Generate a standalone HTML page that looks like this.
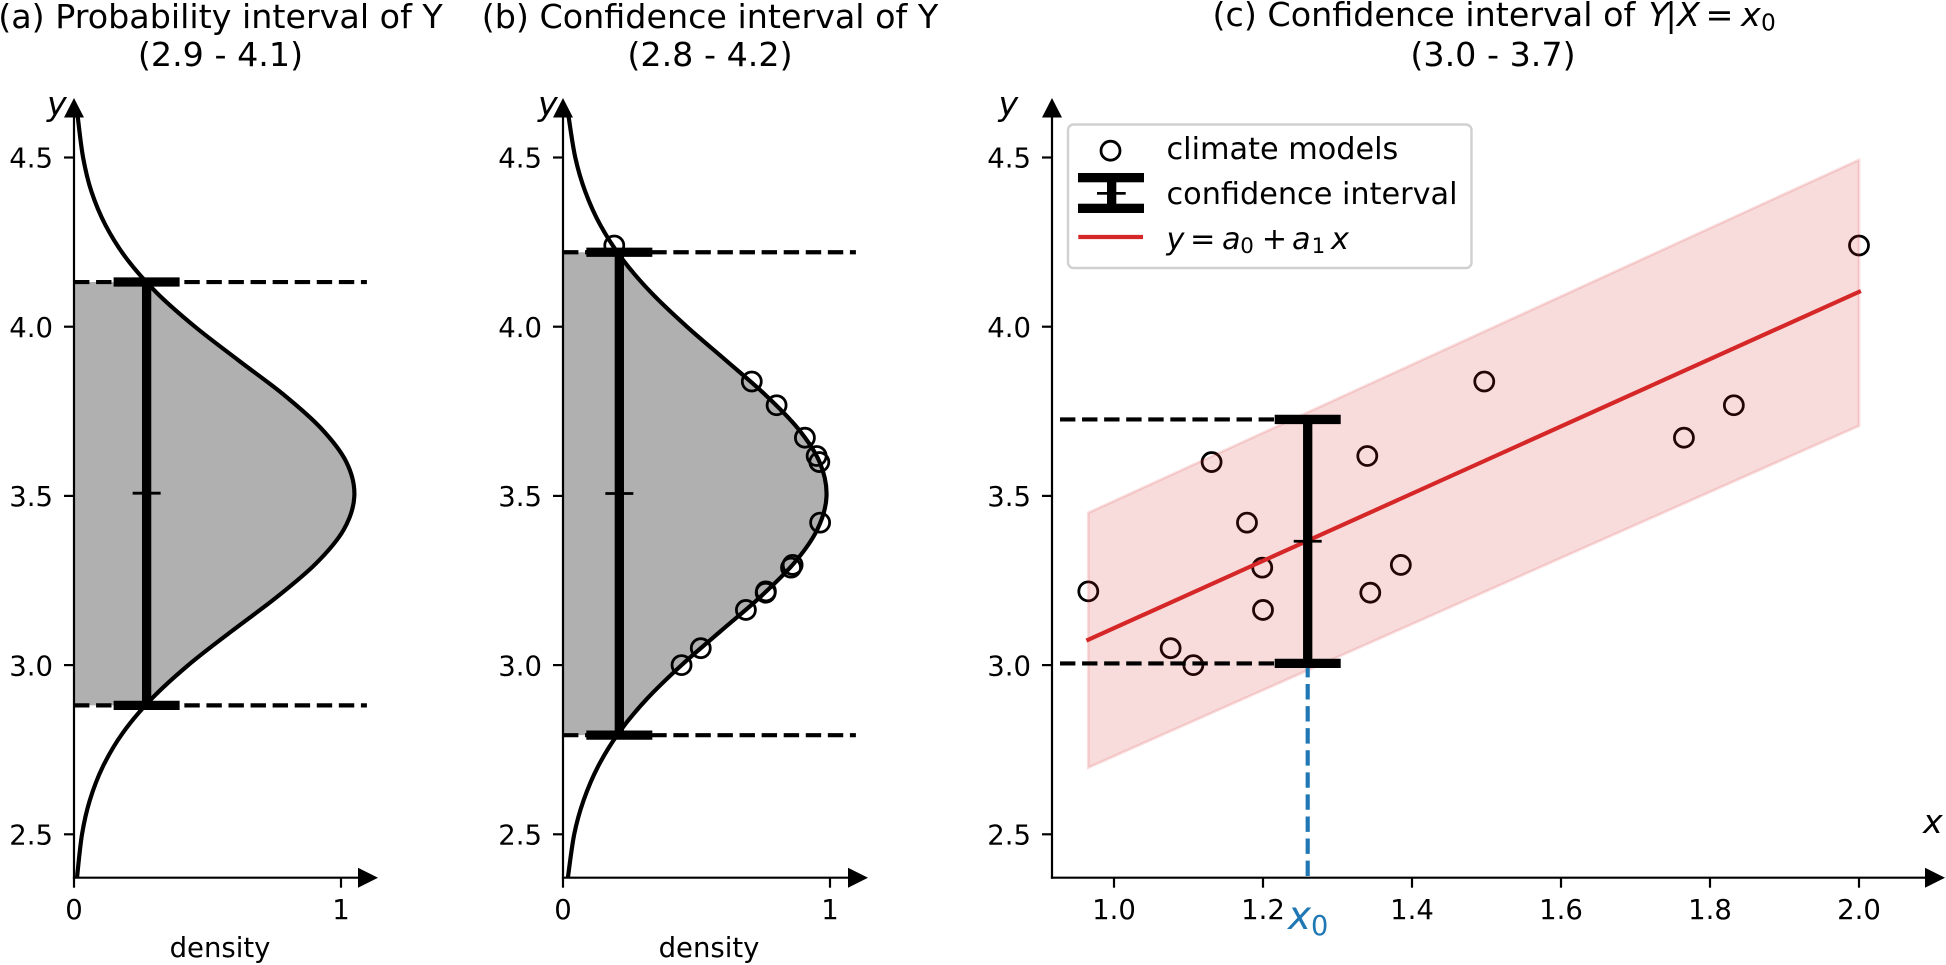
<!DOCTYPE html>
<html lang="en">
<head>
<meta charset="utf-8">
<title>Probability and confidence intervals of Y</title>
<style>
html,body{margin:0;padding:0;background:#fff;}
body{width:1946px;height:965px;overflow:hidden;}
svg{display:block;}
text{font-family:"DejaVu Sans","Liberation Sans",sans-serif;fill:#000;}
.tick{font-size:27.5px;}
.leg{font-size:30.3px;}
.title{font-size:33.33px;}
.it{font-style:italic;}
</style>
</head>
<body>
<svg id="fig" width="1946" height="965" viewBox="0 0 1946 965" xmlns="http://www.w3.org/2000/svg">
  <defs>
    <clipPath id="clip-a"><rect id="clip-a-rect" x="60" y="0" width="400" height="965"/></clipPath>
    <clipPath id="clip-b"><rect id="clip-b-rect" x="550" y="0" width="400" height="965"/></clipPath>
  </defs>
  <g id="panel-a"></g>
  <g id="panel-b"></g>
  <g id="panel-c"></g>

  <text class="title" x="220.5" y="28" text-anchor="middle">(a) Probability interval of Y</text>
  <text class="title" x="220.5" y="66" text-anchor="middle">(2.9 - 4.1)</text>
  <text class="title" x="710" y="28" text-anchor="middle">(b) Confidence interval of Y</text>
  <text class="title" x="710" y="66" text-anchor="middle">(2.8 - 4.2)</text>
  <g>
    <text class="title" x="1212.5" y="26">(c) Confidence interval of</text>
    <text class="title it" x="1648.5" y="26">Y</text>
    <text class="title" x="1665.5" y="26">|</text>
    <text class="title it" x="1677" y="26">X</text>
    <text class="title" x="1705.5" y="26">=</text>
    <text class="title it" x="1741" y="26">x</text>
    <text x="1761" y="30.5" style="font-size:23.3px">0</text>
  </g>
  <text class="title" x="1493" y="66" text-anchor="middle">(3.0 - 3.7)</text>

  <text class="title it" x="47" y="115">y</text>
  <text class="title it" x="538" y="115">y</text>
  <text class="title it" x="998.5" y="115">y</text>
  <text class="title it" x="1923" y="833">x</text>
  <text class="tick" x="220" y="957" text-anchor="middle">density</text>
  <text class="tick" x="709" y="957" text-anchor="middle">density</text>

  <g>
    <text class="it" x="1288" y="929" style="font-size:38.9px;fill:#1f77b4">x</text>
    <text x="1311" y="935" style="font-size:27.2px;fill:#1f77b4">0</text>
  </g>

  <g id="legend">
    <rect x="1068" y="124.5" width="403.5" height="143.5" rx="5.5" ry="5.5" fill="#fff" stroke="#d0d0d0" stroke-width="2.4"/>
    <circle cx="1110.5" cy="150.7" r="9.5" fill="none" stroke="#000" stroke-width="2.78"/>
    <text class="leg" x="1166.5" y="159">climate models</text>
    <g>
      <rect x="1078" y="173" width="66" height="9.3" fill="#000"/>
      <rect x="1078" y="203.7" width="66" height="9.3" fill="#000"/>
      <rect x="1107" y="177" width="9.3" height="32" fill="#000"/>
      <rect x="1097" y="192" width="28.7" height="2.7" fill="#000"/>
    </g>
    <text class="leg" x="1166.5" y="204">confidence interval</text>
    <line x1="1078.3" y1="237" x2="1143" y2="237" stroke="#d62728" stroke-width="4.17"/>
    <g>
      <text class="leg it" x="1166.5" y="248.8">y</text>
      <text class="leg" x="1190" y="248.8">=</text>
      <text class="leg it" x="1222" y="248.8">a</text>
      <text x="1240.3" y="253" style="font-size:21.4px">0</text>
      <text class="leg" x="1261.8" y="248.8">+</text>
      <text class="leg it" x="1292" y="248.8">a</text>
      <text x="1311.6" y="253" style="font-size:21.4px">1</text>
      <text class="leg it" x="1331" y="248.8">x</text>
    </g>
  </g>
</svg>
<script>
// ---------- data ----------
const yTickLabels = ['2.5', '3.0', '3.5', '4.0', '4.5'];
const densityTickLabels = ['0', '1'];
const xTickLabels = ['1.0', '1.2', '1.4', '1.6', '1.8', '2.0'];

const curveAValues = [4.62,4.5,4.4,4.3,4.2,4.1,4.0,3.9,3.8,3.7,3.6,3.5,3.4,3.3,3.2,3.1,3.0,2.9,2.8,2.7,2.6,2.5,2.37];
const curveADensity = [0.014,0.034,0.065,0.118,0.198,0.310,0.453,0.617,0.784,0.925,1.02,1.05,1.01,0.906,0.758,0.590,0.428,0.290,0.183,0.108,0.059,0.030,0.011];

const curveBValues = [4.62,4.5,4.4,4.3,4.2,4.1,4.0,3.9,3.8,3.7,3.6,3.5,3.4,3.3,3.2,3.1,3.0,2.9,2.8,2.7,2.6,2.5,2.37];
const curveBDensity = [0.021,0.046,0.083,0.14,0.222,0.331,0.464,0.611,0.756,0.879,0.961,0.987,0.952,0.864,0.737,0.59,0.444,0.314,0.209,0.131,0.077,0.042,0.018];

const modelX = [1.131,1.34,1.497,2.0,1.832,1.765,1.1785,1.199,0.9655,1.2,1.076,1.1065,1.385,1.344];
const modelY = [3.60,3.618,3.838,4.24,3.768,3.672,3.421,3.288,3.218,3.163,3.05,3.0,3.296,3.214];
const modelDensity = [0.96,0.95,0.707,0.192,0.80,0.906,0.963,0.854,0.76,0.685,0.516,0.444,0.86,0.759];

const regressionX = [0.9655, 2.0];
const regressionY = [3.075, 4.103];
const bandUpper = [3.45, 4.493];
const bandLower = [2.697, 3.707];

const intervalA = [2.881, 3.508, 4.132];
const intervalB = [2.793, 3.507, 4.22];
const intervalC = [3.005, 3.366, 3.726];
const barDensityA = 0.272;
const barDensityB = 0.211;
const x0Value = 1.26;

// ---------- axis functions ----------
const yScale = v => 157.5 + (4.5 - v) * 338.4;
const xScaleA = d => 74 + d * 267;
const xScaleB = d => 563 + d * 267;
const xScaleC = x => 1114 + (x - 1) * 745;
const AXIS_Y = 877.7;
const TOP_Y = 98;
const DASH_END_DENSITY = 1.097;
const DASH_START_X = 0.9275;
const NS = 'http://www.w3.org/2000/svg';

function mk(tag, attrs, parent) {
  const el = document.createElementNS(NS, tag);
  for (const k in attrs) el.setAttribute(k, attrs[k]);
  parent.appendChild(el);
  return el;
}

function smoothPath(pts) {
  let d = 'M' + pts[0][0].toFixed(2) + ',' + pts[0][1].toFixed(2);
  for (let i = 0; i < pts.length - 1; i++) {
    const p0 = pts[Math.max(i - 1, 0)], p1 = pts[i], p2 = pts[i + 1], p3 = pts[Math.min(i + 2, pts.length - 1)];
    const c1x = p1[0] + (p2[0] - p0[0]) / 6, c1y = p1[1] + (p2[1] - p0[1]) / 6;
    const c2x = p2[0] - (p3[0] - p1[0]) / 6, c2y = p2[1] - (p3[1] - p1[1]) / 6;
    d += 'C' + c1x.toFixed(2) + ',' + c1y.toFixed(2) + ' ' + c2x.toFixed(2) + ',' + c2y.toFixed(2) + ' ' + p2[0].toFixed(2) + ',' + p2[1].toFixed(2);
  }
  return d;
}

function drawIntervalBar(g, cx, interval) {
  const yLow = yScale(interval[0]), yMid = yScale(interval[1]), yHigh = yScale(interval[2]);
  const stem = mk('line', {x1: cx, x2: cx, y1: yHigh, y2: yLow, stroke: '#000', 'stroke-width': 9.3}, g);
  
  
  const capHigh = mk('line', {x1: cx - 33, x2: cx + 33, y1: yHigh, y2: yHigh, stroke: '#000', 'stroke-width': 9.3}, g);
  
  
  const capLow = mk('line', {x1: cx - 33, x2: cx + 33, y1: yLow, y2: yLow, stroke: '#000', 'stroke-width': 9.3}, g);
  
  
  const mean = mk('line', {x1: cx - 14, x2: cx + 14, y1: yMid, y2: yMid, stroke: '#000', 'stroke-width': 2.78}, g);
  
  
}

function drawDash(g, x1, x2, y) {
  const dash = mk('line', {x1: x1, x2: x2, y1: y, y2: y, stroke: '#000', 'stroke-width': 4.17, 'stroke-dasharray': '15.4 6.67'}, g);
  
  
}

function drawYAxis(g, axisX, labelX) {
  const spine = mk('line', {x1: axisX, x2: axisX, y1: TOP_Y + 15, y2: AXIS_Y + 1, stroke: '#000', 'stroke-width': 2.2}, g);
  
  
  const arrow = mk('polygon', {points: (axisX - 10) + ',117.5 ' + (axisX + 10) + ',117.5 ' + axisX + ',' + TOP_Y, fill: '#000'}, g);
  
  
  yTickLabels.forEach(label => {
    const y = yScale(parseFloat(label));
    const tick = mk('line', {x1: axisX - 10, x2: axisX, y1: y, y2: y, stroke: '#000', 'stroke-width': 2.2}, g);
    
    
    const text = mk('text', {x: labelX, y: y + 10.2, 'text-anchor': 'end', class: 'tick'}, g);
    
    
    text.textContent = label;
  });
}

function drawXAxis(g, x0, arrowBase, labels, scale) {
  const spine = mk('line', {x1: x0 - 1.1, x2: arrowBase + 2, y1: AXIS_Y, y2: AXIS_Y, stroke: '#000', 'stroke-width': 2.2}, g);
  
  
  const arrow = mk('polygon', {points: arrowBase + ',' + (AXIS_Y - 10) + ' ' + arrowBase + ',' + (AXIS_Y + 10) + ' ' + (arrowBase + 20) + ',' + AXIS_Y, fill: '#000'}, g);
  
  
  labels.forEach(label => {
    const x = scale(parseFloat(label));
    const tick = mk('line', {x1: x, x2: x, y1: AXIS_Y, y2: AXIS_Y + 10, stroke: '#000', 'stroke-width': 2.2}, g);
    
    
    const text = mk('text', {x: x, y: 919, 'text-anchor': 'middle', class: 'tick'}, g);
    
    
    text.textContent = label;
  });
}

function drawDensityPanel(g, clipId, scale, values, density, interval) {
  const pts = values.map((v, i) => [scale(density[i]), yScale(v)]);
  const curve = smoothPath(pts);
  const clipRect = document.getElementById(clipId + '-rect');
  clipRect.setAttribute('y', yScale(interval[2]));
  clipRect.setAttribute('height', yScale(interval[0]) - yScale(interval[2]));
  const fill = mk('path', {
    d: curve + 'L' + scale(0) + ',' + pts[pts.length - 1][1] + 'L' + scale(0) + ',' + pts[0][1] + 'Z',
    fill: '#b0b0b0', 'clip-path': 'url(#' + clipId + ')'
  }, g);
  
  
  const line = mk('path', {d: curve, fill: 'none', stroke: '#000', 'stroke-width': 4.17}, g);
  
  
}

// ---------- panel a ----------
const gA = document.getElementById('panel-a');
drawDensityPanel(gA, 'clip-a', xScaleA, curveAValues, curveADensity, intervalA);
drawDash(gA, xScaleA(0), xScaleA(DASH_END_DENSITY), yScale(intervalA[2]));
drawDash(gA, xScaleA(0), xScaleA(DASH_END_DENSITY), yScale(intervalA[0]));
drawIntervalBar(gA, xScaleA(barDensityA), intervalA);
drawYAxis(gA, xScaleA(0), 53);
drawXAxis(gA, xScaleA(0), 358, densityTickLabels, xScaleA);

// ---------- panel b ----------
const gB = document.getElementById('panel-b');
drawDensityPanel(gB, 'clip-b', xScaleB, curveBValues, curveBDensity, intervalB);
modelY.forEach((v, i) => {
  const dot = mk('circle', {cx: xScaleB(modelDensity[i]), cy: yScale(v), r: 9.5, fill: 'none', stroke: '#000', 'stroke-width': 2.78}, gB);
  
  
});
drawDash(gB, xScaleB(0), xScaleB(DASH_END_DENSITY), yScale(intervalB[2]));
drawDash(gB, xScaleB(0), xScaleB(DASH_END_DENSITY), yScale(intervalB[0]));
drawIntervalBar(gB, xScaleB(barDensityB), intervalB);
drawYAxis(gB, xScaleB(0), 542);
drawXAxis(gB, xScaleB(0), 848, densityTickLabels, xScaleB);

// ---------- panel c ----------
const gC = document.getElementById('panel-c');
modelX.forEach((x, i) => {
  const dot = mk('circle', {cx: xScaleC(x), cy: yScale(modelY[i]), r: 9.5, fill: 'none', stroke: '#000', 'stroke-width': 2.78}, gC);
  
  
});
const bandPoints = regressionX.map((x, i) => xScaleC(x) + ',' + yScale(bandUpper[i]))
  .concat(regressionX.slice().reverse().map((x, i) => xScaleC(x) + ',' + yScale(bandLower[regressionX.length - 1 - i])));
const band = mk('polygon', {points: bandPoints.join(' '), fill: '#d62728', 'fill-opacity': 0.16, stroke: '#d62728', 'stroke-opacity': 0.15, 'stroke-width': 2.78}, gC);


const regLine = mk('line', {x1: xScaleC(regressionX[0]), y1: yScale(regressionY[0]), x2: xScaleC(regressionX[1]), y2: yScale(regressionY[1]), stroke: '#d62728', 'stroke-width': 4.17, 'stroke-linecap': 'square'}, gC);


drawDash(gC, xScaleC(DASH_START_X), xScaleC(x0Value), yScale(intervalC[2]));
drawDash(gC, xScaleC(DASH_START_X), xScaleC(x0Value), yScale(intervalC[0]));
const x0Line = mk('line', {x1: xScaleC(x0Value), x2: xScaleC(x0Value), y1: 876, y2: yScale(intervalC[0]), stroke: '#1f77b4', 'stroke-width': 4.17, 'stroke-dasharray': '15.4 6.67'}, gC);


drawIntervalBar(gC, xScaleC(x0Value), intervalC);
drawYAxis(gC, 1052, 1031);
drawXAxis(gC, 1052, 1925, xTickLabels, xScaleC);
</script>
</body>
</html>
